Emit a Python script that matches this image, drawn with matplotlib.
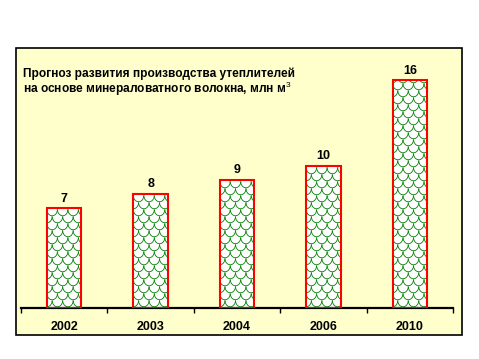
import numpy as np
import matplotlib
matplotlib.use("Agg")
import matplotlib.pyplot as plt
from matplotlib.patches import Rectangle
from matplotlib.collections import LineCollection

years = ["2002", "2003", "2004", "2006", "2010"]
volumes = [7, 8, 9, 10, 16]
title_lines = ["Прогноз развития производства утеплителей",
               "на основе минераловатного волокна, млн м$^3$"]

W, H = 479, 359
fig = plt.figure(figsize=(W / 100, H / 100), dpi=100)
fig.patch.set_facecolor("white")
plt.rcParams['font.family'] = ['Liberation Sans', 'DejaVu Sans']
plt.rcParams['mathtext.fontset'] = 'custom'
plt.rcParams['mathtext.rm'] = 'Liberation Sans'

# yellow chart area with black border
fig.patches.append(Rectangle((16 / W, 1 - 335 / H), (462 - 16) / W, (335 - 48) / H,
                             transform=fig.transFigure, facecolor="#ffffcc",
                             edgecolor="black", lw=1.2, zorder=-5))

ymax = 17
ax_left, ax_right, ax_bottom = 21, 453, 307.5
ax_top = ax_bottom - ymax * 14.2
ax = fig.add_axes([ax_left / W, 1 - ax_bottom / H, (ax_right - ax_left) / W, (ax_bottom - ax_top) / H])
ax.set_facecolor("none")
ax.set_zorder(2)

x = np.arange(len(years))
bw = 0.4
ax.bar(x, volumes, width=bw, color="white", lw=0, zorder=1)
bars = ax.bar(x, volumes, width=bw, color="none", edgecolor="#ff0000", lw=1.5, zorder=4)

# fish-scale fill like the Excel pattern
px_x = len(years) / (ax_right - ax_left)   # data units per pixel
px_y = ymax / (ax_bottom - ax_top)
sw, sh = 10.5 * px_x, 7 * px_y
t = np.linspace(np.pi, 2 * np.pi, 12)
for b in bars:
    x0 = b.get_x()
    segs = []
    nrows = int(b.get_height() / sh) + 2
    ncols = int(bw / sw) + 3
    for j in range(nrows):
        off = 0.5 * sw if j % 2 else 0
        for i in range(-1, ncols):
            cx = x0 + i * sw + off
            cy = j * sh
            segs.append(np.column_stack([cx + 0.5 * sw * np.cos(t),
                                         cy + sh * 0.9 * np.sin(t) + sh]))
    lc = LineCollection(segs, colors="#008000", lw=0.6, zorder=3)
    ax.add_collection(lc, autolim=False)
    lc.set_clip_path(b)

for xi, v in zip(x, volumes):
    ax.text(xi, v + 0.25, str(v), ha="center", va="bottom", fontsize=9, fontweight="bold")

ax.set_xlim(-0.5, len(years) - 0.5)
ax.set_ylim(0, ymax)
ax.set_xticks(np.arange(len(years) + 1) - 0.5)
ax.set_xticklabels([])
ax.set_xticks(x, minor=True)
ax.set_xticklabels(years, minor=True, fontsize=9, fontweight="bold")
ax.tick_params(axis="x", which="major", length=3.5, width=1, direction="out")
ax.tick_params(axis="x", which="minor", length=0, pad=10)
ax.set_yticks([])
for s in ["top", "right", "left"]:
    ax.spines[s].set_visible(False)
ax.spines["bottom"].set_linewidth(1.6)

for k, line in enumerate(title_lines):
    fig.text(23 / W, 1 - (72 + 14 * k) / H, line, ha="left", va="center_baseline",
             fontsize=8.6, fontweight="bold")

fig.savefig("out.png", dpi=100)
